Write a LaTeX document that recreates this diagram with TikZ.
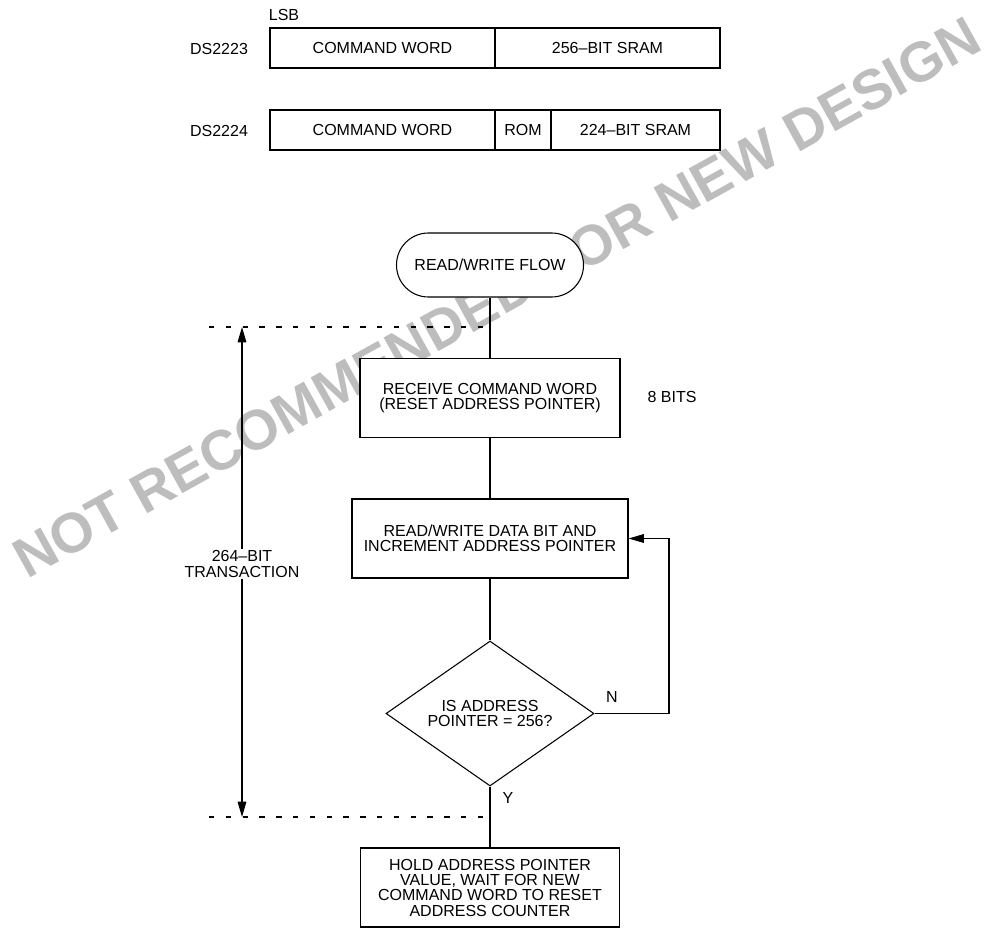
\documentclass[tikz,border=0pt]{standalone}
\usepackage{fontspec}
\setmainfont{Liberation Sans}
\usetikzlibrary{shapes.geometric,arrows.meta}
\definecolor{wmgray}{gray}{0.74}
\begin{document}
\begin{tikzpicture}[x=0.75pt,y=-0.75pt,
  every node/.style={font=\fontsize{12}{11.5}\selectfont},
  reg/.style={draw,line width=0.9pt,fill=white,minimum height=30pt,inner sep=0pt},
  box/.style={draw,line width=0.8pt,fill=white,align=center,inner sep=0pt,minimum height=59.25pt},
  term/.style={draw,line width=0.8pt,fill=white,rounded corners=23.9pt,minimum width=140.25pt,minimum height=48pt,inner sep=0pt},
  dia/.style={draw,line width=0.8pt,fill=white,diamond,aspect=1.43,minimum width=156pt,minimum height=108.75pt,inner sep=0pt,align=center},
  conn/.style={line width=0.8pt},
  arr/.style={line width=0.8pt,-{Triangle[length=11.5pt,width=6.5pt]}},
  dimarr/.style={line width=0.8pt,{Triangle[length=11.5pt,width=6.5pt]}-{Triangle[length=11.5pt,width=6.5pt]}},
  dashline/.style={line width=0.8pt,dash pattern=on 4pt off 8.6pt},
  lbl/.style={inner sep=0pt,align=center}
]
\useasboundingbox (0,0) rectangle (988,934);

% watermark (behind everything)
\node[rotate=29,anchor=base west,text=wmgray,inner sep=0pt,font=\fontsize{42}{42}\selectfont\bfseries] (wm) at (27,580) {NOT RECOMMENDED FOR NEW DESIGN};

% register maps
\node[lbl] (lsb) at (284,15) {LSB};
\node[lbl] (ds3) at (219,49) {DS2223};
\node[lbl] (ds4) at (219,131) {DS2224};
\node[reg,minimum width=168.75pt] (cw1) at (382.5,48) {COMMAND WORD};
\node[reg,minimum width=168.75pt] (sram1) at (607.5,48) {256–BIT SRAM};
\node[reg,minimum width=168.75pt] (cw2) at (382.5,130) {COMMAND WORD};
\node[reg,minimum width=42pt] (rom) at (523,130) {ROM};
\node[reg,minimum width=126.75pt] (sram2) at (635.5,130) {224–BIT SRAM};

% flowchart
\node[term] (start) at (490,265) {READ/WRITE FLOW};
\node[box,minimum width=195pt] (recv) at (490,398) {RECEIVE COMMAND WORD\\(RESET ADDRESS POINTER)};
\node[box,minimum width=207pt] (rw) at (490,538.5) {READ/WRITE DATA BIT AND\\INCREMENT ADDRESS POINTER};
\node[dia] (dec) at (490,713.5) {IS ADDRESS\\POINTER = 256?};
\node[box,minimum width=194.25pt] (hold) at (490,887.5) {HOLD ADDRESS POINTER\\VALUE, WAIT FOR NEW\\COMMAND WORD TO RESET\\ADDRESS COUNTER};

\node[lbl] (eight) at (672,397) {8 BITS};
\node[lbl] (nlab) at (612,697) {N};
\node[lbl] (ylab) at (508,798) {Y};

\draw[conn] (start.south) -- (recv.north);
\draw[conn] (recv.south) -- (rw.north);
\draw[conn] (rw.south) -- (dec.north);
\draw[conn] (dec.south) -- (hold.north);
\coordinate (loopc) at (669,713.5);
\draw[arr] (dec.east) -- (dec.east -| loopc) |- (rw.east);

% transaction span
\coordinate (dtl) at (209,327);
\coordinate (dtr) at (490,327);
\coordinate (dbl) at (209,817);
\coordinate (dbr) at (490,817);
\draw[dashline] (dtl) -- (dtr);
\draw[dashline] (dbl) -- (dbr);
\coordinate (atop) at (242,327);
\coordinate (abot) at (242,817);
\draw[dimarr] (atop) -- (abot);
\node[fill=white,inner sep=1.5pt,align=center] (trans) at (242,564) {264–BIT\\TRANSACTION};
\end{tikzpicture}
\end{document}
